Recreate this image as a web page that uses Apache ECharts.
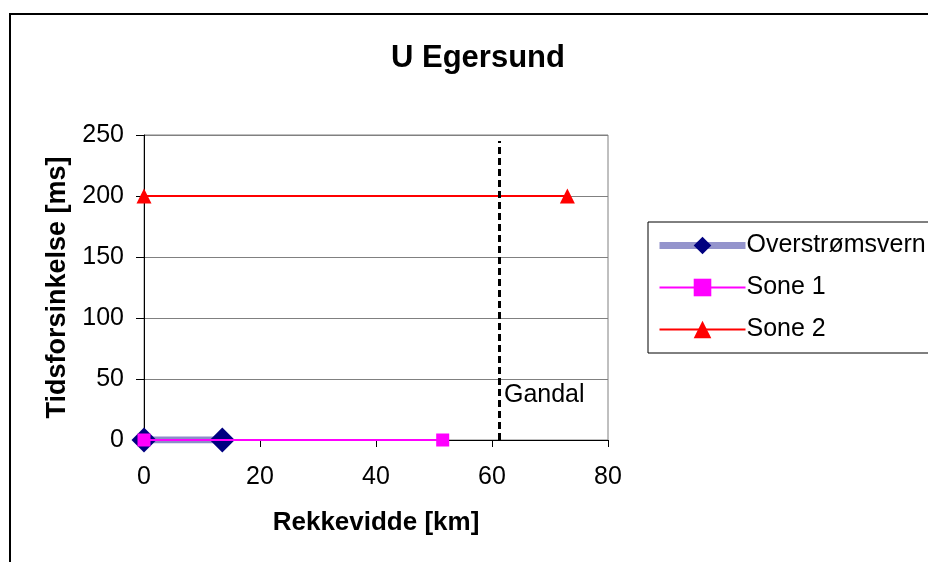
<!DOCTYPE html>
<html>
<head>
<meta charset="utf-8">
<script src="https://cdn.jsdelivr.net/npm/echarts@6/dist/echarts.min.js"></script>
<style>
  html, body { margin: 0; padding: 0; background: #fff; }
  #chart { width: 928px; height: 562px; }
</style>
</head>
<body>
<div id="chart"></div>
<script>
// data
const overstromData = [[0, 0], [13.5, 0]];
const sone1Data = [[0, 0], [51.5, 0]];
const sone2Data = [[0, 200], [73, 200]];
const gandalX = 61.2;
const gandalTop = 245;
const gandalLabelY = 37;

const font = 'Liberation Sans, Arial, sans-serif';

const chart = echarts.init(document.getElementById('chart'));

const option = {
  backgroundColor: '#fff',
  animation: false,
  title: {
    text: 'U Egersund',
    left: 386,
    top: 38,
    textStyle: { fontFamily: font, fontSize: 31, fontWeight: 'bold', color: '#000' }
  },
  graphic: [
    {
      type: 'rect',
      shape: { x: 10, y: 14, width: 1000, height: 1000 },
      style: { fill: 'none', stroke: '#000', lineWidth: 2 },
      silent: true
    }
  ],
  legend: {
    orient: 'vertical',
    left: 648,
    top: 222,
    padding: [11, 10, 11, 8],
    itemGap: 17,
    itemWidth: 86,
    itemHeight: 22,
    borderColor: '#000',
    borderWidth: 1,
    textStyle: { fontFamily: font, fontSize: 25, color: '#000', padding: [0, 0, 0, -4] },
    data: [
      { name: 'Overstrømsvern', lineStyle: { width: 7, color: '#9494cc' } },
      { name: 'Sone 1' },
      { name: 'Sone 2' }
    ]
  },
  grid: {
    left: 144,
    right: 320,
    top: 135,
    bottom: 122,
    show: true,
    borderColor: '#808080',
    borderWidth: 1
  },
  xAxis: {
    type: 'value',
    min: 0,
    max: 80,
    interval: 20,
    name: 'Rekkevidde [km]',
    nameLocation: 'middle',
    nameGap: 70,
    nameTextStyle: { fontFamily: font, fontSize: 26, fontWeight: 'bold', color: '#000' },
    axisLine: { onZero: false, lineStyle: { color: '#000', width: 1 } },
    axisTick: { show: true, length: 7, lineStyle: { color: '#000' } },
    axisLabel: { fontFamily: font, fontSize: 25, color: '#000', margin: 25 },
    splitLine: { show: false }
  },
  yAxis: {
    type: 'value',
    min: 0,
    max: 250,
    interval: 50,
    name: 'Tidsforsinkelse [ms]',
    nameLocation: 'middle',
    nameGap: 73,
    nameTextStyle: { fontFamily: font, fontSize: 27, fontWeight: 'bold', color: '#000' },
    axisLine: { show: true, lineStyle: { color: '#000', width: 1 } },
    axisTick: { show: true, length: 8, lineStyle: { color: '#000' } },
    axisLabel: { fontFamily: font, fontSize: 25, color: '#000', margin: 20 },
    splitLine: { show: true, lineStyle: { color: '#808080', width: 1 } }
  },
  series: [
    {
      name: 'Overstrømsvern',
      type: 'line',
      data: overstromData,
      symbol: 'diamond',
      symbolSize: 25,
      itemStyle: { color: '#000080' },
      lineStyle: { color: '#8c8cc8', width: 7 },
      z: 3
    },
    {
      name: 'Sone 1',
      type: 'line',
      data: sone1Data,
      symbol: 'rect',
      symbolSize: 13,
      itemStyle: { color: '#ff00ff' },
      lineStyle: { color: '#ff00ff', width: 2 },
      z: 4
    },
    {
      name: 'Sone 2',
      type: 'line',
      data: sone2Data,
      symbol: 'triangle',
      symbolSize: 15,
      itemStyle: { color: '#ff0000' },
      lineStyle: { color: '#ff0000', width: 2 },
      z: 4,
      markLine: {
        silent: true,
        symbol: 'none',
        label: { show: false },
        lineStyle: { color: '#000', type: [7, 4], width: 3 },
        data: [[{ coord: [gandalX, 0] }, { coord: [gandalX, gandalTop] }]]
      },
      markPoint: {
        silent: true,
        symbol: 'circle',
        symbolSize: 0,
        label: {
          show: true,
          position: 'right',
          distance: 5,
          formatter: 'Gandal',
          fontFamily: font,
          fontSize: 25,
          color: '#000'
        },
        data: [{ coord: [gandalX, gandalLabelY] }]
      }
    }
  ]
};

chart.setOption(option);
</script>
</body>
</html>
